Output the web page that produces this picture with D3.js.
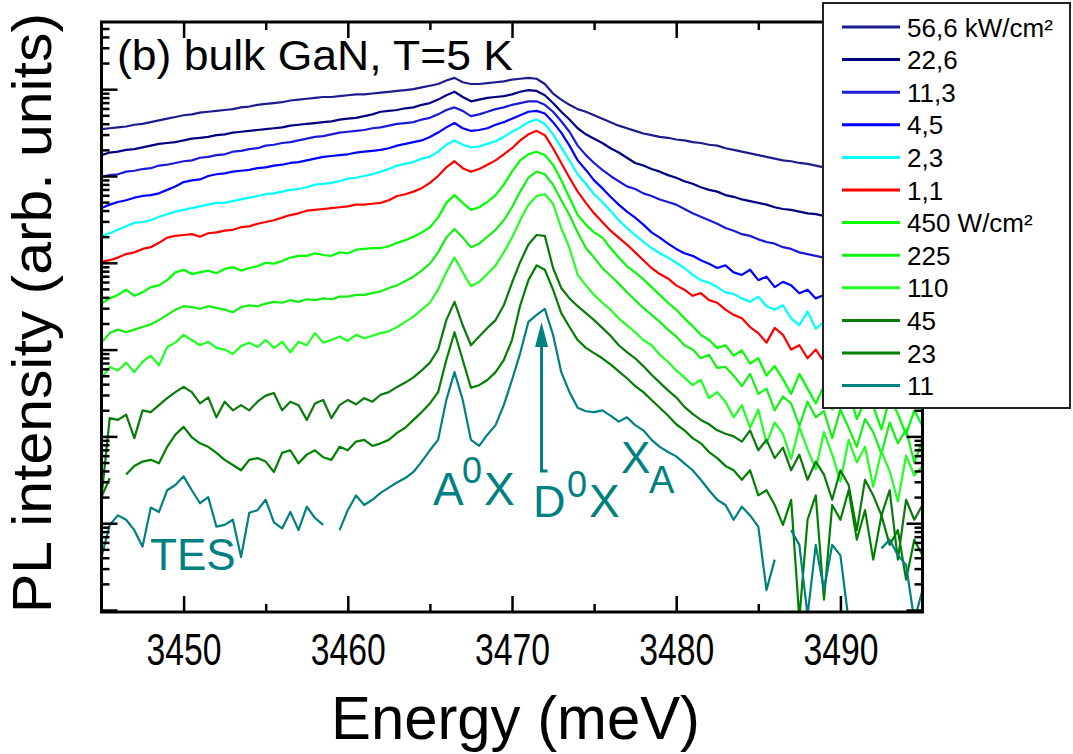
<!DOCTYPE html>
<html>
<head>
<meta charset="utf-8">
<script src="https://cdn.jsdelivr.net/npm/d3@7"></script>
<style>
  html, body { margin: 0; padding: 0; background: #fff; }
  svg { display: block; font-family: "Liberation Sans", Arial, Helvetica, sans-serif; }
</style>
</head>
<body>
<svg id="chart" width="1073" height="754"></svg>
<script>
// Photon energy grid of the spectra (meV), 0.5 meV sampling
const energyStart = 3445;
const energyStep = 0.5;
const energy = d3.range(101).map(i => energyStart + i * energyStep);

// PL spectra, stored as log10 of the intensity (arb. units); null = no counts
const pl_56_6 = [5.54,5.55,5.56,5.57,5.59,5.60,5.62,5.64,5.66,5.68,
  5.70,5.71,5.73,5.74,5.75,5.76,5.77,5.79,5.80,5.82,
  5.83,5.84,5.85,5.87,5.88,5.89,5.90,5.91,5.91,5.92,
  5.93,5.94,5.94,5.95,5.96,5.97,5.98,5.99,6.00,6.02,
  6.04,6.06,6.10,6.13,6.08,6.06,6.06,6.07,6.08,6.09,
  6.11,6.12,6.13,6.12,6.06,5.95,5.88,5.82,5.77,5.74,
  5.70,5.66,5.62,5.58,5.55,5.52,5.49,5.47,5.45,5.44,
  5.42,5.41,5.39,5.38,5.36,5.35,5.32,5.30,5.28,5.26,
  5.24,5.22,5.20,5.18,5.17,5.15,5.14,5.12,5.10,5.09,
  5.07,5.06,5.04,5.03,5.01,5.00,4.98,4.97,4.95,4.94,
  4.92];
const pl_22_6 = [5.24,5.27,5.28,5.30,5.31,5.33,5.35,5.37,5.38,5.39,
  5.41,5.43,5.44,5.45,5.47,5.48,5.50,5.51,5.52,5.53,
  5.54,5.55,5.56,5.58,5.59,5.60,5.61,5.62,5.63,5.65,
  5.66,5.67,5.69,5.71,5.74,5.75,5.76,5.78,5.79,5.82,
  5.84,5.88,5.93,5.97,5.91,5.86,5.88,5.90,5.91,5.92,
  5.94,5.97,5.99,5.98,5.93,5.84,5.74,5.65,5.55,5.48,
  5.43,5.38,5.32,5.27,5.21,5.15,5.12,5.08,5.05,5.01,
  4.98,4.94,4.91,4.87,4.84,4.82,4.78,4.76,4.73,4.71,
  4.69,4.67,4.64,4.62,4.61,4.59,4.57,4.56,4.54,4.52,
  4.50,4.48,4.47,4.45,4.43,4.41,4.40,4.38,4.36,4.34,
  4.32];
const pl_11_3 = [4.99,5.01,5.02,5.05,5.06,5.08,5.09,5.12,5.13,5.15,
  5.17,5.18,5.21,5.22,5.24,5.25,5.28,5.29,5.31,5.32,
  5.35,5.36,5.38,5.39,5.41,5.43,5.45,5.46,5.48,5.50,
  5.51,5.52,5.53,5.55,5.56,5.58,5.60,5.61,5.62,5.65,
  5.67,5.71,5.76,5.79,5.75,5.69,5.71,5.74,5.77,5.79,
  5.82,5.84,5.86,5.86,5.82,5.74,5.63,5.51,5.35,5.24,
  5.15,5.07,5.00,4.94,4.88,4.85,4.80,4.77,4.73,4.70,
  4.67,4.62,4.57,4.53,4.49,4.45,4.40,4.37,4.33,4.31,
  4.27,4.24,4.22,4.18,4.16,4.12,4.10,4.08,4.06,4.03,
  4.01,3.98,3.96,3.93,3.91,3.88,3.86,3.83,3.81,3.78,
  3.76];
const pl_4_5 = [4.63,4.67,4.70,4.72,4.75,4.77,4.78,4.80,4.84,4.88,
  4.93,4.95,4.96,5.00,5.02,5.03,5.05,5.06,5.07,5.09,
  5.10,5.12,5.13,5.15,5.16,5.18,5.20,5.22,5.23,5.24,
  5.25,5.27,5.28,5.29,5.30,5.32,5.35,5.37,5.39,5.41,
  5.45,5.50,5.56,5.61,5.55,5.52,5.53,5.55,5.59,5.62,
  5.66,5.70,5.74,5.75,5.72,5.62,5.50,5.35,5.18,5.07,
  4.95,4.86,4.76,4.67,4.59,4.52,4.44,4.35,4.29,4.22,
  4.16,4.11,4.08,4.03,3.99,3.94,3.97,3.89,3.86,3.92,
  3.80,3.84,3.72,3.78,3.74,3.65,3.69,3.59,3.63,3.57,
  3.55,3.52,3.50,3.47,3.45,3.43,3.40,3.38,3.36,3.33,
  3.30];
const pl_2_3 = [4.31,4.34,4.38,4.42,4.46,4.47,4.49,4.53,4.56,4.59,
  4.61,4.63,4.65,4.67,4.69,4.69,4.71,4.73,4.75,4.77,
  4.79,4.80,4.82,4.84,4.85,4.87,4.90,4.91,4.92,4.94,
  4.97,4.98,5.00,5.02,5.05,5.08,5.12,5.14,5.16,5.20,
  5.22,5.28,5.36,5.41,5.36,5.33,5.34,5.37,5.40,5.45,
  5.51,5.56,5.62,5.65,5.60,5.48,5.33,5.18,5.02,4.91,
  4.79,4.70,4.60,4.49,4.40,4.32,4.24,4.17,4.11,4.06,
  4.00,3.94,3.86,3.80,3.77,3.72,3.66,3.64,3.59,3.55,
  3.61,3.50,3.46,3.51,3.36,3.28,3.44,3.24,3.32,3.25,
  3.20,3.22,3.15,3.12,3.08,3.10,3.02,3.00,2.97,2.93,
  2.90];
const pl_1_1 = [4.01,4.03,4.06,4.10,4.12,4.16,4.18,4.23,4.29,4.31,
  4.32,4.33,4.30,4.34,4.35,4.37,4.38,4.41,4.42,4.45,
  4.47,4.49,4.52,4.55,4.57,4.60,4.61,4.62,4.63,4.64,
  4.65,4.67,4.67,4.68,4.69,4.72,4.77,4.79,4.82,4.86,
  4.92,5.00,5.10,5.17,5.09,5.05,5.08,5.13,5.18,5.25,
  5.32,5.41,5.48,5.52,5.47,5.32,5.15,4.98,4.82,4.69,
  4.57,4.47,4.37,4.29,4.21,4.12,4.03,3.94,3.87,3.82,
  3.74,3.69,3.62,3.65,3.57,3.54,3.46,3.40,3.36,3.26,
  3.19,3.08,3.25,3.17,3.00,3.05,2.90,3.00,2.86,2.80,
  2.88,2.75,2.70,2.78,2.64,2.60,2.68,2.55,2.50,2.58,
  2.45];
const pl_450 = [3.53,3.59,3.63,3.69,3.62,3.66,3.72,3.74,3.80,3.89,
  3.92,3.87,3.89,3.91,3.88,3.93,3.95,3.91,3.94,3.96,
  4.00,3.99,4.02,4.06,4.08,4.08,4.11,4.09,4.08,4.12,
  4.11,4.15,4.16,4.17,4.17,4.19,4.23,4.26,4.30,4.35,
  4.41,4.52,4.69,4.78,4.69,4.61,4.64,4.70,4.78,4.90,
  5.05,5.18,5.25,5.28,5.24,5.13,4.95,4.75,4.55,4.44,
  4.35,4.29,4.17,4.06,3.96,3.89,3.81,3.72,3.63,3.54,
  3.46,3.36,3.27,3.17,3.11,3.02,3.05,2.93,2.99,2.84,
  2.90,2.70,2.81,2.66,2.49,2.72,2.55,2.38,2.58,2.31,
  2.47,2.52,2.20,2.41,2.35,2.08,2.44,2.26,2.02,2.30,
  2.12];
const pl_225 = [3.08,3.19,3.23,3.20,3.23,3.26,3.29,3.34,3.40,3.46,
  3.50,3.49,3.47,3.50,3.48,3.46,3.43,3.49,3.51,3.50,
  3.53,3.55,3.54,3.57,3.55,3.58,3.57,3.59,3.58,3.61,
  3.61,3.63,3.63,3.65,3.67,3.71,3.74,3.79,3.84,3.91,
  3.99,4.12,4.29,4.39,4.29,4.18,4.22,4.30,4.38,4.49,
  4.64,4.82,4.98,5.05,5.02,4.90,4.72,4.55,4.35,4.17,
  4.06,3.94,3.85,3.76,3.66,3.57,3.48,3.40,3.32,3.23,
  3.15,3.05,3.00,2.90,2.94,2.79,2.80,2.70,2.58,2.72,
  2.49,2.55,2.30,2.46,2.38,2.12,2.40,2.22,2.29,1.98,
  2.31,2.10,1.88,2.20,2.05,1.80,2.16,1.92,2.08,1.70,
  1.95];
const pl_110 = [2.67,2.80,2.76,2.85,2.74,2.86,2.93,2.82,3.03,3.08,
  3.17,3.11,3.05,3.09,3.02,3.00,2.95,3.04,3.08,3.03,
  3.11,3.02,3.09,2.97,3.09,3.05,3.19,3.08,3.11,3.15,
  3.10,3.17,3.13,3.16,3.19,3.21,3.26,3.32,3.38,3.46,
  3.54,3.69,3.89,4.06,3.89,3.73,3.78,3.87,3.97,4.12,
  4.29,4.49,4.67,4.77,4.79,4.68,4.40,4.17,3.86,3.74,
  3.63,3.54,3.46,3.36,3.28,3.20,3.11,3.05,2.94,2.86,
  2.76,2.68,2.59,2.65,2.44,2.51,2.40,2.22,2.36,2.10,
  2.31,1.92,2.16,2.03,1.74,2.11,1.85,1.62,2.05,1.79,
  1.48,1.96,1.70,1.88,1.42,1.83,1.60,1.25,1.78,1.55,
  1.66];
const pl_45 = [1.30,2.21,2.19,2.25,1.98,2.30,2.28,2.36,2.44,2.51,
  2.57,2.51,2.38,2.45,2.22,2.40,2.30,2.36,2.30,2.40,
  2.47,2.50,2.30,2.40,2.36,2.19,2.38,2.42,2.21,2.36,
  2.42,2.37,2.44,2.40,2.48,2.51,2.57,2.62,2.68,2.76,
  2.85,3.00,3.34,3.55,3.28,3.05,3.15,3.25,3.34,3.51,
  3.77,4.01,4.21,4.32,4.31,3.94,3.71,3.59,3.50,3.42,
  3.34,3.25,3.16,3.05,2.97,2.90,2.81,2.71,2.62,2.53,
  2.45,2.34,2.26,2.19,2.14,2.07,2.03,2.00,1.94,2.07,
  1.84,1.96,1.75,1.87,1.61,1.79,1.50,1.71,1.56,1.27,
  1.61,1.44,0.92,1.50,1.32,1.09,1.38,0.58,1.27,1.04,
  1.21];
const pl_23 = [1.30,1.52,null,1.56,1.66,1.71,1.73,1.69,1.88,2.02,
  2.11,1.99,1.92,1.88,1.81,1.73,1.67,1.61,1.73,1.75,
  1.71,1.59,1.81,1.84,1.69,1.79,1.84,1.76,1.73,1.88,
  1.84,1.94,1.96,1.89,1.92,1.96,2.04,2.10,2.19,2.28,
  2.38,2.51,2.88,3.20,2.88,2.56,2.59,2.65,2.74,2.88,
  3.11,3.51,3.80,3.97,3.92,3.69,3.42,3.26,3.11,3.02,
  2.96,2.90,2.83,2.75,2.67,2.58,2.51,2.42,2.33,2.24,
  2.14,2.07,1.98,1.92,1.82,1.75,1.66,1.61,1.50,1.61,
  1.32,1.38,1.21,0.98,1.27,-0.10,1.04,1.32,0.12,1.21,
  1.04,1.38,0.81,1.15,0.58,1.09,0.75,0.92,0.35,0.81,
  0.63];
const pl_11 = [0.61,0.98,1.09,1.04,0.92,0.73,1.18,1.13,1.38,1.44,
  1.54,1.38,1.23,1.30,0.96,0.98,1.04,0.61,1.12,1.15,
  1.27,1.01,0.94,1.13,0.92,1.19,1.06,0.98,null,0.92,
  1.15,1.32,1.21,1.27,1.35,1.41,1.47,1.52,1.59,1.71,
  1.84,1.96,2.42,2.74,2.42,1.96,1.89,2.02,2.13,2.36,
  2.65,2.96,3.32,3.40,3.47,3.17,2.74,2.51,2.33,2.29,
  2.28,2.30,2.24,2.17,2.22,2.13,2.07,1.96,1.88,1.82,
  1.77,1.69,1.61,1.50,1.38,1.27,1.21,1.04,1.19,1.09,
  0.96,0.23,0.58,null,0.92,0.75,-0.06,0.75,0.23,0.75,
  0.63,-0.12,null,null,null,0.71,0.81,0.63,0.52,-0.12,
  0.23];

// Excitation densities (legend) and line colours, highest power first
const powerLabels = ["56,6 kW/cm\u00B2", "22,6", "11,3", "4,5", "2,3", "1,1",
  "450 W/cm\u00B2", "225", "110", "45", "23", "11"];
const lineColors = ["#1c1c8c", "#000080", "#1a1ad8", "#0000ff", "#00ffff", "#ff0000",
  "#00ff00", "#14f014", "#22ff22", "#0a7a0a", "#008000", "#008080"];
const spectra = [pl_56_6, pl_22_6, pl_11_3, pl_4_5, pl_2_3, pl_1_1,
  pl_450, pl_225, pl_110, pl_45, pl_23, pl_11];

// Axis ticks
const xMajorTicks = [3450, 3460, 3470, 3480, 3490];
const xMinorTicks = [3455, 3465, 3475, 3485];
const yDecades = [1, 10, 100, 1e3, 1e4, 1e5, 1e6];

const annotationColor = "#008080";

const svg = d3.select("#chart");
const plotLeft = 101.5, plotRight = 922.5, plotTop = 22, plotBottom = 612;

const x = d3.scaleLinear().domain([3445, 3495]).range([plotLeft, plotRight]);
const y = d3.scaleLog().domain([Math.pow(10, -0.023), Math.pow(10, 6.774)]).range([plotBottom, plotTop]);

const yMinorTicks = [];
yDecades.forEach(d => {
  for (let k = 2; k <= 9; k++) {
    const v = d * k;
    if (v < y.domain()[1]) yMinorTicks.push(v);
  }
});

svg.append("rect").attr("width", 1073).attr("height", 754).attr("fill", "#fff");

svg.append("clipPath").attr("id", "plotClip")
  .append("rect").attr("x", plotLeft).attr("y", plotTop)
  .attr("width", plotRight - plotLeft).attr("height", plotBottom - plotTop);

// Spectra
const line = d3.line()
  .defined(d => d.v !== null)
  .x(d => x(d.e))
  .y(d => y(Math.pow(10, d.v)));

const plot = svg.append("g").attr("clip-path", "url(#plotClip)");
spectra.forEach((vals, i) => {
  const pts = energy.map((e, j) => ({ e, v: vals[j] }));
  plot.append("path")
    .datum(pts)
    .attr("d", line)
    .attr("fill", "none")
    .attr("stroke", lineColors[i])
    .attr("stroke-width", 2.2)
    .attr("stroke-linejoin", "round");
});

// Axes: inward ticks on all four sides
function styleAxis(g) {
  g.select(".domain").remove();
  g.selectAll(".tick line").attr("stroke", "#000").attr("stroke-width", 2.5);
}

svg.append("g").attr("transform", `translate(0,${plotBottom})`)
  .call(d3.axisBottom(x).tickValues(xMajorTicks).tickSize(-16).tickFormat(d3.format("d")))
  .call(styleAxis)
  .call(g => g.selectAll(".tick text")
    .attr("y", 53).attr("dy", 0)
    .attr("fill", "#000")
    .attr("font-size", 44)
    .attr("font-family", "'Liberation Sans', Arial, sans-serif")
    .attr("textLength", 75)
    .attr("lengthAdjust", "spacingAndGlyphs"));
svg.append("g").attr("transform", `translate(0,${plotBottom})`)
  .call(d3.axisBottom(x).tickValues(xMinorTicks).tickSize(-8).tickFormat(""))
  .call(styleAxis);
svg.append("g").attr("transform", `translate(0,${plotTop})`)
  .call(d3.axisTop(x).tickValues(xMajorTicks).tickSize(-16).tickFormat(""))
  .call(styleAxis);
svg.append("g").attr("transform", `translate(0,${plotTop})`)
  .call(d3.axisTop(x).tickValues(xMinorTicks).tickSize(-8).tickFormat(""))
  .call(styleAxis);

svg.append("g").attr("transform", `translate(${plotLeft},0)`)
  .call(d3.axisLeft(y).tickValues(yDecades).tickSize(-16).tickFormat(""))
  .call(styleAxis);
svg.append("g").attr("transform", `translate(${plotLeft},0)`)
  .call(d3.axisLeft(y).tickValues(yMinorTicks).tickSize(-8).tickFormat(""))
  .call(styleAxis);
svg.append("g").attr("transform", `translate(${plotRight},0)`)
  .call(d3.axisRight(y).tickValues(yDecades).tickSize(-16).tickFormat(""))
  .call(styleAxis);
svg.append("g").attr("transform", `translate(${plotRight},0)`)
  .call(d3.axisRight(y).tickValues(yMinorTicks).tickSize(-8).tickFormat(""))
  .call(styleAxis);

// Frame
svg.append("rect")
  .attr("x", plotLeft).attr("y", plotTop)
  .attr("width", plotRight - plotLeft).attr("height", plotBottom - plotTop)
  .attr("fill", "none").attr("stroke", "#000").attr("stroke-width", 3);

// Axis titles
svg.append("text")
  .attr("x", 331).attr("y", 739)
  .attr("font-size", 62)
  .attr("textLength", 369).attr("lengthAdjust", "spacingAndGlyphs")
  .text("Energy (meV)");

svg.append("text")
  .attr("transform", "translate(51,613) rotate(-90)")
  .attr("font-size", 56)
  .attr("textLength", 600).attr("lengthAdjust", "spacingAndGlyphs")
  .text("PL intensity (arb. units)");

// Panel title
svg.append("text")
  .attr("x", 117).attr("y", 70)
  .attr("font-size", 42)
  .attr("textLength", 396).attr("lengthAdjust", "spacingAndGlyphs")
  .text("(b) bulk GaN, T=5 K");

// Peak labels
const ann = svg.append("g").attr("fill", annotationColor);
ann.append("text").attr("x", 150).attr("y", 570).attr("font-size", 44).text("TES");
ann.append("text").attr("x", 433).attr("y", 505).attr("font-size", 46).text("A");
ann.append("text").attr("x", 462).attr("y", 483).attr("font-size", 36).text("0");
ann.append("text").attr("x", 484).attr("y", 505).attr("font-size", 46).text("X");
ann.append("text").attr("x", 533).attr("y", 517).attr("font-size", 45).text("D");
ann.append("text").attr("x", 567).attr("y", 497).attr("font-size", 36).text("0");
ann.append("text").attr("x", 589).attr("y", 517).attr("font-size", 46).text("X");
ann.append("text").attr("x", 621).attr("y", 473).attr("font-size", 44).text("X");
ann.append("text").attr("x", 649).attr("y", 493).attr("font-size", 38).text("A");

// Arrow pointing at the D0X peak
const arrowX = x(3471.8);
svg.append("path")
  .attr("d", `M${arrowX + 6},471 L${arrowX},471 L${arrowX},344`)
  .attr("fill", "none").attr("stroke", annotationColor).attr("stroke-width", 3);
svg.append("path")
  .attr("d", `M${arrowX},322 L${arrowX - 6.5},347 L${arrowX + 6.5},347 Z`)
  .attr("fill", annotationColor);

// Legend
const legend = svg.append("g");
legend.append("rect")
  .attr("x", 823).attr("y", 3).attr("width", 247).attr("height", 405)
  .attr("fill", "#fff").attr("stroke", "#222").attr("stroke-width", 2);
powerLabels.forEach((lab, i) => {
  const ry = 27 + i * 32.6;
  legend.append("line")
    .attr("x1", 842).attr("x2", 900).attr("y1", ry).attr("y2", ry)
    .attr("stroke", lineColors[i]).attr("stroke-width", 3);
  legend.append("text")
    .attr("x", 907).attr("y", ry + 9.5)
    .attr("font-size", 26)
    .text(lab);
});
</script>
</body>
</html>
